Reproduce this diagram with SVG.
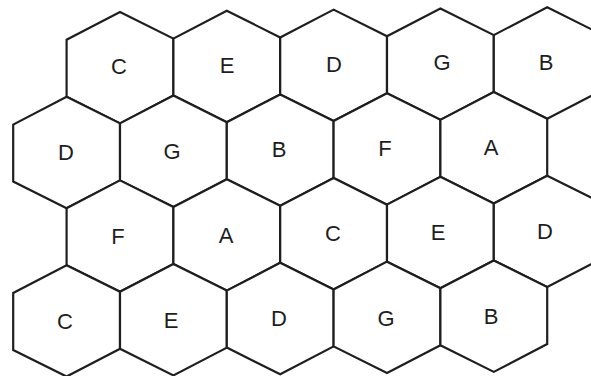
<svg xmlns="http://www.w3.org/2000/svg" xmlns:xlink="http://www.w3.org/1999/xlink" width="591" height="376" viewBox="0 0 591 376">
<style>
.hex{fill:#ffffff;stroke:#1e1e1e;stroke-width:2.2;stroke-linejoin:miter}
.lbl{font-family:"Liberation Sans",Arial,sans-serif;font-size:22px;fill:#1e1e1e;text-anchor:middle}
</style>
<defs>
<polygon id="hex" points="0,-55.7 53.4,-28.5 53.4,28.5 0,55.7 -53.4,28.5 -53.4,-28.5"/>
</defs>
<rect width="591" height="376" fill="#ffffff"/>
<g id="connectors"></g>
<g id="r1c1"><use xlink:href="#hex" class="hex" transform="skewY(-0.63) translate(120 69)"/><text class="lbl" x="119" y="74">C</text></g>
<g id="r1c2"><use xlink:href="#hex" class="hex" transform="skewY(-0.63) translate(226.8 69)"/><text class="lbl" x="227" y="73">E</text></g>
<g id="r1c3"><use xlink:href="#hex" class="hex" transform="skewY(-0.63) translate(333.6 69)"/><text class="lbl" x="334" y="72">D</text></g>
<g id="r1c4"><use xlink:href="#hex" class="hex" transform="skewY(-0.63) translate(440.4 69)"/><text class="lbl" x="442" y="70">G</text></g>
<g id="r1c5"><use xlink:href="#hex" class="hex" transform="skewY(-0.63) translate(547.2 69)"/><text class="lbl" x="546" y="70">B</text></g>
<g id="r2c1"><use xlink:href="#hex" class="hex" transform="skewY(-0.63) translate(66.6 153.2)"/><text class="lbl" x="66" y="160">D</text></g>
<g id="r2c2"><use xlink:href="#hex" class="hex" transform="skewY(-0.63) translate(173.4 153.2)"/><text class="lbl" x="172" y="159">G</text></g>
<g id="r2c3"><use xlink:href="#hex" class="hex" transform="skewY(-0.63) translate(280.2 153.2)"/><text class="lbl" x="279" y="157">B</text></g>
<g id="r2c4"><use xlink:href="#hex" class="hex" transform="skewY(-0.63) translate(387 153.2)"/><text class="lbl" x="385" y="156">F</text></g>
<g id="r2c5"><use xlink:href="#hex" class="hex" transform="skewY(-0.63) translate(493.8 153.2)"/><text class="lbl" x="491" y="155">A</text></g>
<g id="r3c1"><use xlink:href="#hex" class="hex" transform="skewY(-0.63) translate(120 237.4)"/><text class="lbl" x="118" y="244">F</text></g>
<g id="r3c2"><use xlink:href="#hex" class="hex" transform="skewY(-0.63) translate(226.8 237.4)"/><text class="lbl" x="226" y="243">A</text></g>
<g id="r3c3"><use xlink:href="#hex" class="hex" transform="skewY(-0.63) translate(333.6 237.4)"/><text class="lbl" x="333" y="241">C</text></g>
<g id="r3c4"><use xlink:href="#hex" class="hex" transform="skewY(-0.63) translate(440.4 237.4)"/><text class="lbl" x="438" y="240">E</text></g>
<g id="r3c5"><use xlink:href="#hex" class="hex" transform="skewY(-0.63) translate(547.2 237.4)"/><text class="lbl" x="545" y="239">D</text></g>
<g id="r4c1"><use xlink:href="#hex" class="hex" transform="skewY(-0.63) translate(66.6 321.6)"/><text class="lbl" x="65" y="329">C</text></g>
<g id="r4c2"><use xlink:href="#hex" class="hex" transform="skewY(-0.63) translate(173.4 321.6)"/><text class="lbl" x="171" y="328">E</text></g>
<g id="r4c3"><use xlink:href="#hex" class="hex" transform="skewY(-0.63) translate(280.2 321.6)"/><text class="lbl" x="279" y="326">D</text></g>
<g id="r4c4"><use xlink:href="#hex" class="hex" transform="skewY(-0.63) translate(387 321.6)"/><text class="lbl" x="386" y="326">G</text></g>
<g id="r4c5"><use xlink:href="#hex" class="hex" transform="skewY(-0.63) translate(493.8 321.6)"/><text class="lbl" x="491" y="324">B</text></g>
</svg>
